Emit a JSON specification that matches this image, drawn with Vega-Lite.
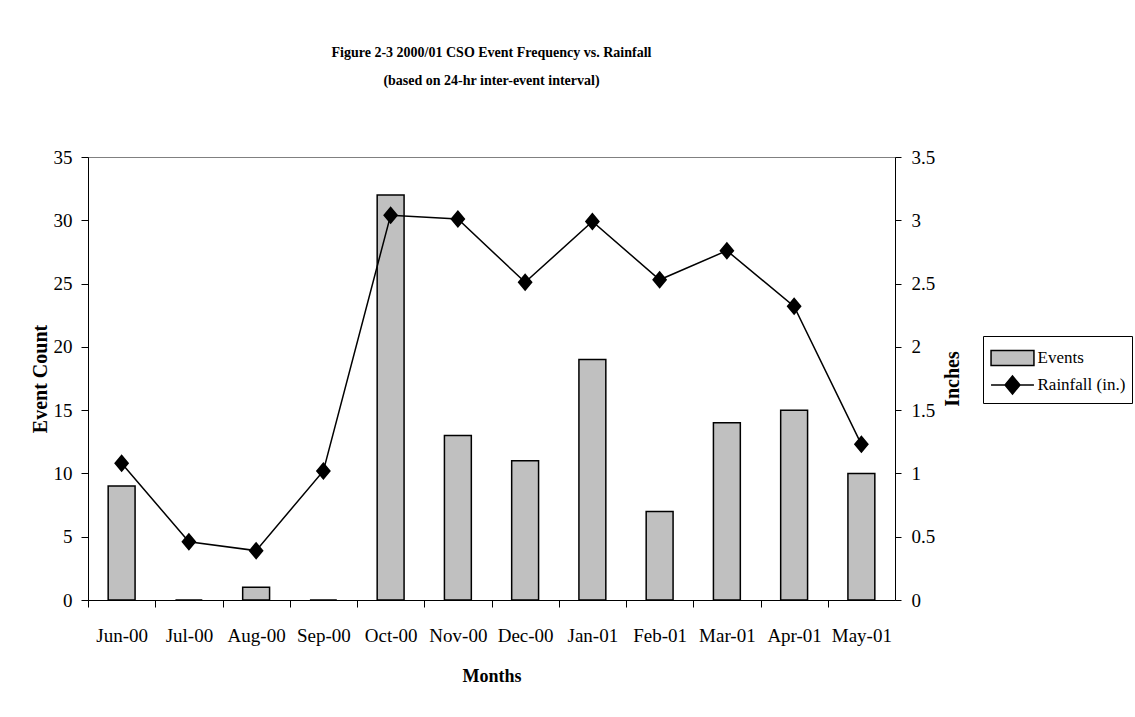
{
  "$schema": "https://vega.github.io/schema/vega-lite/v6.json",
  "width": 807,
  "height": 443,
  "autosize": {"type": "none"},
  "padding": {"left": 88, "top": 157, "right": 240, "bottom": 117},
  "background": "white",
  "title": {
    "text": ["Figure 2-3  2000/01 CSO Event Frequency vs. Rainfall", "(based on 24-hr inter-event interval)"],
    "anchor": "middle",
    "frame": "group",
    "lineHeight": 28,
    "offset": 60
  },
  "data": {
    "values": [
      {"Month": "Jun-00", "Events": 9, "Rainfall": 1.08},
      {"Month": "Jul-00", "Events": 0, "Rainfall": 0.46},
      {"Month": "Aug-00", "Events": 1, "Rainfall": 0.39},
      {"Month": "Sep-00", "Events": 0, "Rainfall": 1.02},
      {"Month": "Oct-00", "Events": 32, "Rainfall": 3.04},
      {"Month": "Nov-00", "Events": 13, "Rainfall": 3.01},
      {"Month": "Dec-00", "Events": 11, "Rainfall": 2.51},
      {"Month": "Jan-01", "Events": 19, "Rainfall": 2.99},
      {"Month": "Feb-01", "Events": 7, "Rainfall": 2.53},
      {"Month": "Mar-01", "Events": 14, "Rainfall": 2.76},
      {"Month": "Apr-01", "Events": 15, "Rainfall": 2.32},
      {"Month": "May-01", "Events": 10, "Rainfall": 1.23}
    ]
  },
  "encoding": {
    "x": {
      "field": "Month",
      "type": "ordinal",
      "sort": null,
      "scale": {"paddingInner": 0.6, "paddingOuter": 0.3},
      "axis": {
        "title": "Months",
        "titleFontSize": 18,
        "titlePadding": 22,
        "labelAngle": 0,
        "bandPosition": 0.5,
        "tickOffset": -33.625,
        "labelOffset": 33.625,
        "tickSize": 7,
        "labelPadding": 19,
        "labelOverlap": false,
        "labelBound": false,
        "labelFlush": false
      }
    }
  },
  "layer": [
    {
      "mark": {"type": "bar", "stroke": "black", "strokeWidth": 1.5},
      "encoding": {
        "y": {
          "field": "Events",
          "type": "quantitative",
          "scale": {"domain": [0, 35], "nice": false},
          "axis": {
            "title": "Event Count",
            "titleFontSize": 20,
            "titlePadding": 3,
            "values": [0, 5, 10, 15, 20, 25, 30, 35],
            "tickSize": 7,
            "labelPadding": 9
          }
        },
        "fill": {
          "datum": "Events",
          "scale": {"domain": ["Events", "Rainfall (in.)"], "range": ["#c0c0c0", "#000000"]},
          "legend": {
            "title": null,
            "orient": "none",
            "legendX": 895,
            "legendY": 179,
            "padding": 6,
            "strokeColor": "black",
            "fillColor": "white",
            "symbolSize": 900,
            "symbolOffset": 7.5,
            "labelOffset": 9,
            "rowPadding": 0,
            "labelFontSize": 17,
            "labelFont": "Liberation Serif",
            "labelColor": "black",
            "symbolStrokeColor": "black",
            "symbolStrokeWidth": 1.5,
            "encode": {
              "symbols": {
                "update": {
                  "stroke": {"value": "black"},
                  "strokeWidth": {"value": 1.5}
                }
              }
            }
          }
        }
      }
    },
    {
      "encoding": {
        "y": {
          "field": "Rainfall",
          "type": "quantitative",
          "scale": {"domain": [0, 3.5], "nice": false},
          "axis": {
            "orient": "right",
            "title": "Inches",
            "titleFontSize": 20,
            "titleAngle": 270,
            "titleBaseline": "top",
            "titlePadding": 8,
            "format": "~g",
            "values": [0, 0.5, 1, 1.5, 2, 2.5, 3, 3.5],
            "tickSize": 6,
            "labelPadding": 10
          }
        }
      },
      "layer": [
        {
          "mark": {"type": "line", "color": "black", "strokeWidth": 1.5}
        },
        {
          "mark": {"type": "point", "filled": true, "size": 900, "opacity": 1},
          "encoding": {
            "fill": {"datum": "Rainfall (in.)"},
            "shape": {
              "datum": "Rainfall (in.)",
              "scale": {
                "domain": ["Events", "Rainfall (in.)"],
                "range": ["M-1.43,-0.5H1.43V0.5H-1.43Z", "M-1.43,0H1.43M0,-0.6L0.5,0L0,0.6L-0.5,0Z"]
              },
              "legend": {
                "title": null,
                "orient": "none",
                "legendX": 895,
                "legendY": 179,
                "padding": 6,
                "strokeColor": "black",
                "fillColor": "white",
                "symbolSize": 900,
                "symbolOffset": 7.5,
                "labelOffset": 9,
                "rowPadding": 0,
                "labelFontSize": 17,
                "labelFont": "Liberation Serif",
                "labelColor": "black",
                "symbolStrokeColor": "black",
                "symbolStrokeWidth": 1.5
              }
            }
          }
        }
      ]
    }
  ],
  "resolve": {"scale": {"y": "independent"}},
  "config": {
    "font": "Liberation Serif",
    "view": {"stroke": "#808080", "strokeWidth": 1},
    "title": {"font": "Liberation Serif", "fontSize": 14, "fontWeight": "bold", "color": "black"},
    "axis": {
      "labelFont": "Liberation Serif",
      "labelFontSize": 19,
      "labelColor": "black",
      "titleFont": "Liberation Serif",
      "titleFontWeight": "bold",
      "titleColor": "black",
      "domainColor": "black",
      "domainWidth": 1,
      "tickColor": "black",
      "tickWidth": 1,
      "grid": false
    }
  }
}
